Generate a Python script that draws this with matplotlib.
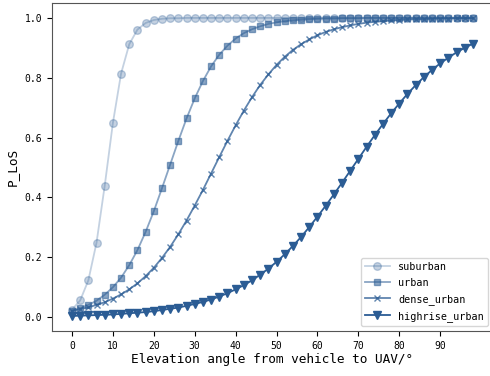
import matplotlib
matplotlib.use("Agg")
import matplotlib.pyplot as plt
import numpy as np

plt.rcParams["font.family"] = ["DejaVu Sans Mono"]

# elevation angle (deg), sampled every 2 degrees
angles = list(range(0, 100, 2))

suburban = [0.025, 0.056, 0.123, 0.249, 0.439, 0.649, 0.814, 0.912, 0.961, 0.983,
            0.993, 0.997, 0.999, 0.999] + [1.000] * 36
urban = [0.022, 0.030, 0.041, 0.055, 0.075, 0.100, 0.132, 0.174, 0.224, 0.285,
         0.354, 0.431, 0.510, 0.589, 0.664, 0.731, 0.789, 0.838, 0.877, 0.907,
         0.931, 0.949, 0.962, 0.972, 0.980, 0.985, 0.989, 0.992, 0.994, 0.996,
         0.997, 0.998, 0.998, 0.999, 0.999, 0.999, 1.000, 1.000, 1.000, 1.000,
         1.000, 1.000, 1.000, 1.000, 1.000, 1.000, 1.000, 1.000, 1.000, 1.000]
dense_urban = [0.021, 0.027, 0.033, 0.041, 0.050, 0.062, 0.076, 0.093, 0.113, 0.137,
               0.165, 0.198, 0.235, 0.277, 0.323, 0.373, 0.425, 0.480, 0.535, 0.589,
               0.641, 0.690, 0.735, 0.776, 0.811, 0.843, 0.870, 0.893, 0.912, 0.928,
               0.942, 0.953, 0.962, 0.969, 0.975, 0.980, 0.984, 0.987, 0.989, 0.992,
               0.993, 0.995, 0.996, 0.996, 0.997, 0.998, 0.998, 0.999, 0.999, 0.999]
highrise_urban = [0.004, 0.005, 0.006, 0.007, 0.008, 0.009, 0.011, 0.013, 0.015, 0.017,
                  0.020, 0.024, 0.028, 0.032, 0.038, 0.044, 0.051, 0.059, 0.069, 0.080,
                  0.093, 0.107, 0.123, 0.142, 0.162, 0.185, 0.210, 0.238, 0.268, 0.301,
                  0.336, 0.372, 0.410, 0.449, 0.489, 0.529, 0.569, 0.608, 0.645, 0.681,
                  0.714, 0.746, 0.775, 0.802, 0.826, 0.848, 0.867, 0.885, 0.900, 0.914]

xtick_vals = list(range(0, 100, 10))

BLUE = "#2b5c94"

fig = plt.figure(figsize=(4.9, 3.76), dpi=100)
ax = fig.add_axes([0.106, 0.12, 0.9, 0.872])

series = [
    (suburban,       "suburban",       "o", 5.5, 0.28),
    (urban,          "urban",          "s", 5.0, 0.55),
    (dense_urban,    "dense_urban",    "x", 5.0, 0.75),
    (highrise_urban, "highrise_urban", "v", 6.0, 1.0),
]
for vals, label, mk, ms, alpha in series:
    ax.plot(angles, vals, color=BLUE, marker=mk, ms=ms, lw=1.3,
            alpha=alpha, label=label)

ax.set_xticks(xtick_vals)
ax.tick_params(labelsize=7)
ax.set_xlabel("Elevation angle from vehicle to UAV/°", fontsize=9.2, labelpad=2)
ax.set_ylabel("P_LoS", fontsize=9.2)
for s in ax.spines.values():
    s.set_color("#555555")
ax.legend(loc="lower right", fontsize=7.3, handlelength=2.5, labelspacing=0.6)

fig.savefig("out.png", dpi=100)
